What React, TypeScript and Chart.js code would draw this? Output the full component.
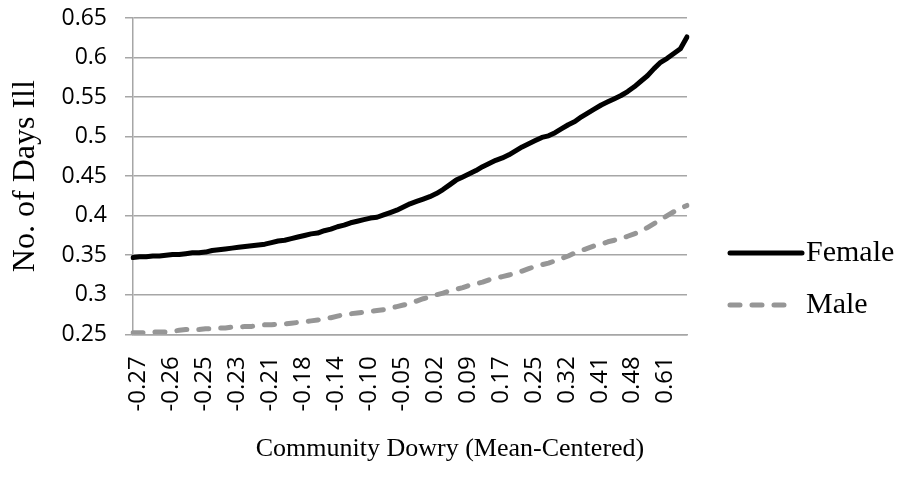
import React, { useEffect, useRef } from "react";
import { Chart, registerables } from "chart.js";

Chart.register(...registerables);

// Community dowry (mean-centered), one entry per category on the x axis
const dowry = [
  -0.27, -0.27, -0.27, -0.26, -0.26,
  -0.26, -0.26, -0.26, -0.25, -0.25,
  -0.25, -0.25, -0.24, -0.24, -0.24,
  -0.23, -0.23, -0.22, -0.22, -0.22,
  -0.21, -0.21, -0.2, -0.2, -0.19,
  -0.18, -0.18, -0.17, -0.16, -0.15,
  -0.14, -0.13, -0.13, -0.12, -0.11,
  -0.1, -0.09, -0.08, -0.07, -0.06,
  -0.05, -0.03, -0.02, -0.01, 0.01,
  0.02, 0.03, 0.05, 0.06, 0.08,
  0.09, 0.1, 0.12, 0.14, 0.15,
  0.17, 0.18, 0.2, 0.22, 0.23,
  0.25, 0.26, 0.28, 0.29, 0.31,
  0.32, 0.34, 0.36, 0.38, 0.39,
  0.41, 0.42, 0.44, 0.45, 0.47,
  0.48, 0.51, 0.53, 0.56, 0.58,
  0.61, 0.63, 0.65, 0.67, 0.7,
];

// Predicted number of days ill
const female = [
  0.347, 0.348, 0.348, 0.349, 0.349,
  0.35, 0.351, 0.351, 0.352, 0.353,
  0.353, 0.354, 0.356, 0.357, 0.358,
  0.359, 0.36, 0.361, 0.362, 0.363,
  0.364, 0.366, 0.368, 0.369, 0.371,
  0.373, 0.375, 0.377, 0.378, 0.381,
  0.383, 0.386, 0.388, 0.391, 0.393,
  0.395, 0.397, 0.398, 0.401, 0.404,
  0.407, 0.411, 0.415, 0.418, 0.421,
  0.424, 0.428, 0.433, 0.439, 0.445,
  0.449, 0.453, 0.457, 0.462, 0.466,
  0.47, 0.473, 0.477, 0.482, 0.487,
  0.491, 0.495, 0.499, 0.501, 0.505,
  0.51, 0.515, 0.519, 0.525, 0.53,
  0.535, 0.54, 0.544, 0.548, 0.552,
  0.557, 0.563, 0.57, 0.577, 0.586,
  0.594, 0.599, 0.605, 0.611, 0.626,
];

const male = [
  0.252, 0.252, 0.252, 0.253, 0.253,
  0.253, 0.254, 0.255, 0.256, 0.256,
  0.256, 0.257, 0.257, 0.258, 0.258,
  0.259, 0.259, 0.26, 0.26, 0.261,
  0.262, 0.262, 0.263, 0.263, 0.264,
  0.265, 0.266, 0.267, 0.268, 0.27,
  0.271, 0.273, 0.275, 0.276, 0.277,
  0.278, 0.279, 0.28, 0.281, 0.283,
  0.285, 0.287, 0.289, 0.292, 0.295,
  0.297, 0.3, 0.302, 0.305, 0.307,
  0.309, 0.312, 0.314, 0.316, 0.319,
  0.321, 0.323, 0.325, 0.327, 0.33,
  0.333, 0.336, 0.338, 0.34, 0.343,
  0.346, 0.349, 0.353, 0.356, 0.359,
  0.362, 0.364, 0.367, 0.369, 0.371,
  0.374, 0.377, 0.38, 0.385, 0.39,
  0.395, 0.4, 0.405, 0.409, 0.413,
];

const seriesNames = ["Female", "Male"];
const yMin = 0.25;
const yMax = 0.65;
const yStep = 0.05;
const labelEvery = 5;

const xTitle = "Community Dowry (Mean-Centered)";
const yTitle = "No. of Days Ill";

const GRID = "#a6a6a6";
const SERIF = "'Liberation Serif', 'Times New Roman', serif";
const SANS = "'Open Sans', 'DejaVu Sans', sans-serif";

// Legend drawn to the right of the plot: a line sample followed by the series name
const sideLegend = {
  id: "sideLegend",
  afterDraw(chart: any, _args: any, opts: any) {
    const ctx = chart.ctx as CanvasRenderingContext2D;
    ctx.save();
    chart.data.datasets.forEach((ds: any, i: number) => {
      const y = opts.y + i * opts.rowGap;
      const len = ds.borderDash && ds.borderDash.length ? opts.dashLength : opts.lineLength;
      ctx.beginPath();
      ctx.strokeStyle = ds.borderColor;
      ctx.lineWidth = ds.borderWidth;
      ctx.lineCap = ds.borderCapStyle || "butt";
      ctx.setLineDash(ds.borderDash || []);
      ctx.moveTo(opts.x, y);
      ctx.lineTo(opts.x + len, y);
      ctx.stroke();
      ctx.setLineDash([]);
      ctx.fillStyle = opts.color;
      ctx.font = opts.font;
      ctx.textBaseline = "middle";
      ctx.textAlign = "left";
      ctx.fillText(ds.label, opts.x + opts.lineLength + opts.gap, y);
    });
    ctx.restore();
  },
};

export default function App() {
  const canvasRef = useRef<HTMLCanvasElement | null>(null);

  useEffect(() => {
    if (!canvasRef.current) return;
    const chart = new Chart(canvasRef.current, {
      type: "line",
      data: {
        labels: dowry.map((v) => v.toFixed(2)),
        datasets: [
          {
            label: seriesNames[0],
            data: female,
            borderColor: "#000000",
            backgroundColor: "#000000",
            borderWidth: 5,
            borderCapStyle: "round",
            borderJoinStyle: "round",
            pointRadius: 0,
            tension: 0,
            yAxisID: "y",
          },
          {
            label: seriesNames[1],
            data: male,
            borderColor: "#969696",
            backgroundColor: "#969696",
            borderWidth: 5,
            borderDash: [10, 12],
            borderCapStyle: "round",
            borderJoinStyle: "round",
            pointRadius: 0,
            tension: 0,
            yAxisID: "y",
          },
        ],
      },
      options: {
        animation: false,
        responsive: true,
        maintainAspectRatio: false,
        layout: { padding: { top: 18, right: 0, left: 0, bottom: 0 } },
        plugins: {
          legend: { display: false },
          tooltip: { enabled: false },
          title: {
            display: true,
            text: xTitle,
            position: "bottom",
            color: "#000000",
            font: { family: SERIF, size: 26, weight: "normal" },
            padding: { top: 10, bottom: 24 },
          },
          sideLegend: {
            x: 730,
            y: 253,
            rowGap: 52,
            lineLength: 72,
            dashLength: 62,
            gap: 4,
            color: "#000000",
            font: `30px ${SERIF}`,
          },
        } as any,
        scales: {
          x: {
            type: "category",
            offset: false,
            grid: { display: false, drawTicks: false },
            border: { display: true, color: GRID, width: 1.5 },
            ticks: {
              autoSkip: false,
              minRotation: 90,
              maxRotation: 90,
              padding: 22,
              labelOffset: 5,
              color: "#000000",
              font: { family: SANS, size: 24 },
              callback: (_v: any, i: number) =>
                i % labelEvery === 0 ? dowry[i].toFixed(2) : null,
            },
            afterFit: (s: any) => {
              s.height = 89.5;
            },
          },
          y: {
            min: yMin,
            max: yMax,
            grid: { color: GRID, lineWidth: 1.5, tickLength: 8, drawTicks: true },
            border: { display: true, color: GRID, width: 1.5 },
            ticks: {
              stepSize: yStep,
              padding: 18,
              color: "#000000",
              font: { family: SANS, size: 23 },
              callback: (v: any) => String(Number(Number(v).toFixed(2))),
            },
            title: {
              display: true,
              text: yTitle,
              color: "#000000",
              font: { family: SERIF, size: 32, weight: "normal" },
              padding: { top: 6, bottom: 0 },
            },
            afterFit: (s: any) => {
              s.width = 133;
              // the outer labels only need half their height above and below the plot
              s.paddingTop = 14;
              s.paddingBottom = 14;
            },
          },
          // empty band on the right that holds the legend
          legendSpace: {
            type: "linear",
            axis: "y",
            position: "right",
            grid: { display: false, drawTicks: false },
            border: { display: false },
            ticks: { display: false },
            afterFit: (s: any) => {
              s.width = 213;
              s.paddingTop = 0;
              s.paddingBottom = 0;
            },
          },
        },
      } as any,
      plugins: [sideLegend],
    });
    return () => chart.destroy();
  }, []);

  return (
    <div style={{ position: "fixed", left: 0, top: 0, width: 900, height: 489, background: "#ffffff" }}>
      <canvas ref={canvasRef} />
    </div>
  );
}
